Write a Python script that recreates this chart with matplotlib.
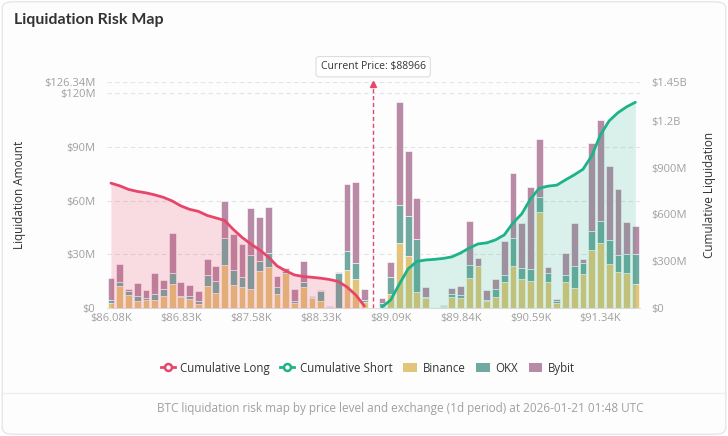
import matplotlib
matplotlib.use("Agg")
import matplotlib.pyplot as plt
import numpy as np
from matplotlib.lines import Line2D
from matplotlib.patches import Patch, FancyBboxPatch

plt.rcParams['font.family'] = ['Open Sans', 'DejaVu Sans']

# liquidation per price bucket (millions USD), bucket 30 = current price
binance = [3.0, 12.2, 7.3, 4.1, 4.5, 4.7, 6.7, 13.5, 6.2, 4.9,
           2.2, 12.3, 8.6, 24.1, 12.9, 11.8, 10.5, 20.6, 22.8, 8.0,
           19.8, 3.0, 11.6, 5.6, 4.1, 0.0, 0.0, 21.3, 16.3, 3.2,
           0.0,
           0.5, 7.9, 36.3, 28.8, 8.8, 5.4, 0.3, 0.8, 6.0, 5.5,
           16.6, 23.2, 4.1, 6.2, 14.8, 23.6, 16.1, 15.1, 53.5, 14.8,
           3.0, 14.6, 11.2, 19.2, 32.5, 36.6, 24.7, 20.4, 19.4, 13.5]
okx = [1.5, 2.6, 2.4, 2.8, 1.1, 3.2, 4.0, 5.9, 0.7, 2.0,
       1.9, 6.0, 6.4, 14.8, 8.2, 5.6, 19.0, 5.4, 7.9, 4.0,
       1.0, 0.9, 3.2, 0.5, 5.5, 0.8, 19.8, 10.3, 9.1, 1.3,
       0.0,
       2.5, 9.3, 21.5, 22.4, 29.9, 0.8, 0.2, 0.3, 1.7, 1.5,
       7.5, 0.5, 0.3, 4.6, 3.7, 15.8, 6.1, 6.8, 8.6, 5.0,
       0.7, 3.7, 12.5, 5.9, 10.3, 12.2, 13.1, 9.3, 10.7, 16.8]
bybit = [12.3, 9.7, 1.1, 7.1, 4.5, 11.7, 5.0, 22.3, 7.7, 6.2,
         5.2, 9.2, 8.4, 20.9, 20.4, 18.5, 26.6, 24.8, 25.8, 5.9,
         1.5, 6.8, 11.2, 0.6, 0.5, 0.3, 0.6, 37.9, 44.9, 6.2,
         0.0,
         2.4, 8.4, 57.4, 36.5, 22.8, 5.8, 0.2, 0.4, 3.3, 5.3,
         24.3, 4.2, 5.7, 5.6, 18.7, 35.8, 25.3, 45.8, 32.5, 3.0,
         1.2, 12.4, 23.8, 2.2, 49.2, 56.2, 41.5, 36.8, 17.8, 15.7]

# cumulative lines (millions USD)
cum_long = [801, 784, 761, 748, 739, 726, 710, 687, 655, 633,
            620, 594, 578, 562, 504, 453, 411, 373, 328, 270,
            238, 212, 202, 197, 191, 183, 170, 135, 84, 13]
cum_short = [6, 51, 154, 251, 299, 308, 312, 318, 328, 353,
             385, 411, 418, 437, 469, 546, 604, 700, 768, 782,
             788, 822, 854, 890, 976, 1111, 1201, 1253, 1291, 1320]

x_labels = ["$86.08K", "$86.83K", "$87.58K", "$88.33K",
            "$89.09K", "$89.84K", "$90.59K", "$91.34K"]
label_idx = [0, 8, 16, 24, 32, 40, 48, 56]
current_idx = 30
current_price = "$88966"

left_ticks = [0, 30, 60, 90, 120, 126.34]
left_tick_labels = ["$0", "$30M", "$60M", "$90M", "$120M", "$126.34M"]
right_ticks = [0, 300, 600, 900, 1200, 1450]
right_tick_labels = ["$0", "$300M", "$600M", "$900M", "$1.2B", "$1.45B"]

c_binance = "#e2c47a"
c_okx = "#6fa99f"
c_bybit = "#b88aa5"
c_long = "#e8456b"
c_short = "#1db38a"

fig = plt.figure(figsize=(7.28, 4.36), dpi=100)
fig.patch.set_facecolor("white")
card = FancyBboxPatch((0.003, 0.004), 0.994, 0.992,
                      boxstyle="round,pad=0,rounding_size=0.015",
                      transform=fig.transFigure, facecolor="#fdfdfd",
                      edgecolor="#e6e6e6", lw=1, zorder=-10)
fig.patches.append(card)

ax = fig.add_axes([0.1464, 0.2936, 0.7324, 0.5183])
ax.patch.set_alpha(0)

x = np.arange(len(binance))
b = np.array(binance)
o = np.array(okx)
y = np.array(bybit)
bw = 0.78
ax.bar(x, b, width=bw, color=c_binance, edgecolor="white", linewidth=0.4)
ax.bar(x, o, bottom=b, width=bw, color=c_okx, edgecolor="white", linewidth=0.4)
ax.bar(x, y, bottom=b + o, width=bw, color=c_bybit, edgecolor="white", linewidth=0.4)

ax.set_xlim(-0.5, len(binance) - 0.5)
ax.set_ylim(0, left_ticks[-1])
ax.set_yticks(left_ticks)
ax.set_yticklabels(left_tick_labels)
ax.set_xticks(label_idx)
ax.set_xticklabels(x_labels)
ax.grid(axis="y", ls=(0, (4, 3)), color="#e4e4e4", lw=0.8)
ax.set_axisbelow(True)
ax.tick_params(length=0, colors="#a0a0a0", labelsize=8)
ax.tick_params(axis="y", pad=8)
for s in ["top", "right", "left"]:
    ax.spines[s].set_visible(False)
ax.spines["bottom"].set_color("#e0e0e0")
ax.set_ylabel("Liquidation Amount", fontsize=8.5, color="#333333")
ax.yaxis.set_label_coords(-0.152, 0.5)

ax2 = ax.twinx()
ax2.set_ylim(0, right_ticks[-1])
ax2.set_yticks(right_ticks)
ax2.set_yticklabels(right_tick_labels)
ax2.tick_params(length=0, colors="#a0a0a0", labelsize=8, pad=8)
for s in ["top", "right", "left", "bottom"]:
    ax2.spines[s].set_visible(False)
ax2.set_ylabel("Cumulative Liquidation", fontsize=8.5, color="#333333")
ax2.yaxis.set_label_coords(1.118, 0.5)

xl = x[:len(cum_long)]
xs = x[current_idx + 1:current_idx + 1 + len(cum_short)]
ax2.fill_between(xl, cum_long, color=c_long, alpha=0.18, lw=0)
ax2.fill_between(xs, cum_short, color=c_short, alpha=0.16, lw=0)
ax2.plot(xl, cum_long, color=c_long, lw=2, solid_capstyle="round")
ax2.plot(xs, cum_short, color=c_short, lw=2, solid_capstyle="round")

# current price marker
ax.plot([current_idx, current_idx], [0, left_ticks[-1] - 1.5], color=c_long,
        ls=(0, (3, 2)), lw=1)
ax.plot(current_idx, left_ticks[-1] - 1.2, marker="^", color=c_long, ms=5,
        clip_on=False)
ax.annotate(f"Current Price: {current_price}", xy=(current_idx, left_ticks[-1]),
            xytext=(0, 11), textcoords="offset points", ha="center", va="center",
            fontsize=7.5, color="#333333",
            bbox=dict(boxstyle="round,pad=0.45,rounding_size=0.3", fc="white",
                      ec="#dddddd", lw=0.8))

fig.text(14 / 728, 1 - 20 / 436, "Liquidation Risk Map", fontsize=11.5,
         weight="bold", color="#333333", va="center", family=["Lato", "DejaVu Sans"])

handles = [
    Line2D([0], [0], color=c_long, lw=2, marker="o", mfc="white", mec=c_long, ms=5, mew=1.8),
    Line2D([0], [0], color=c_short, lw=2, marker="o", mfc="white", mec=c_short, ms=5, mew=1.8),
    Patch(facecolor=c_binance, edgecolor="none"),
    Patch(facecolor=c_okx, edgecolor="none"),
    Patch(facecolor=c_bybit, edgecolor="none"),
]
labels = ["Cumulative Long", "Cumulative Short", "Binance", "OKX", "Bybit"]
fig.legend(handles, labels, loc="center", bbox_to_anchor=(368 / 728, 1 - 368 / 436),
           ncol=5, frameon=False, fontsize=8.3, handlelength=1.2,
           handleheight=0.8, columnspacing=0.9, handletextpad=0.5,
           labelcolor="#333333")

fig.add_artist(Line2D([0.004, 0.996], [1 - 393 / 436] * 2, color="#eeeeee", lw=1))
fig.text(400 / 728, 1 - 408 / 436,
         "BTC liquidation risk map by price level and exchange (1d period) at 2026-01-21 01:48 UTC",
         ha="center", va="center", color="#a0a0a0", fontsize=8.5)

fig.savefig("out.png", dpi=100, facecolor=fig.get_facecolor())
